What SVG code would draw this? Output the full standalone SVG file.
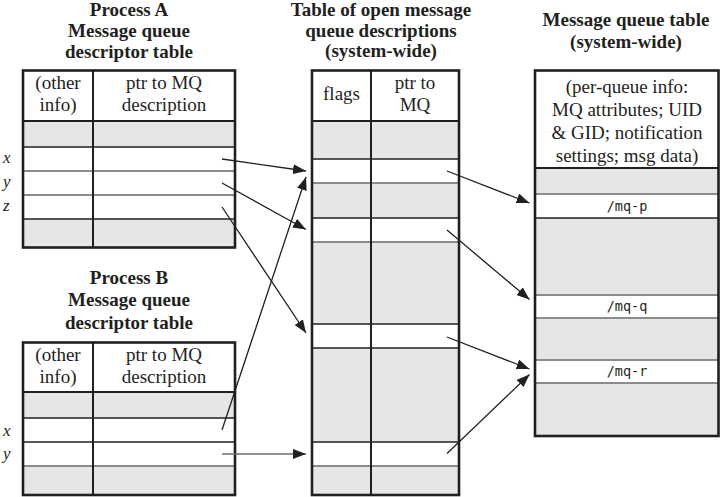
<svg xmlns="http://www.w3.org/2000/svg" width="720" height="497" viewBox="0 0 720 497">
<style>
.bg{fill:#ffffff}
.g{fill:#e6e6e8}
.w{fill:#ffffff}
.border{fill:none;stroke:#231f20;stroke-width:2.6}
.col{stroke:#231f20;stroke-width:2}
.dk{stroke:#231f20;stroke-width:1.5}
.hd{stroke:#231f20;stroke-width:2}
.gr{stroke:#8c8c8c;stroke-width:2}
.title{font-family:'Liberation Serif','DejaVu Serif',serif;font-weight:bold;font-size:19px;fill:#231f20;text-anchor:middle}
.txt{font-family:'Liberation Serif','DejaVu Serif',serif;font-size:19px;fill:#231f20;text-anchor:middle}
.it{font-family:'Liberation Serif','DejaVu Serif',serif;font-style:italic;font-size:17px;fill:#231f20}
.mono{font-family:'DejaVu Sans Mono','Liberation Mono',monospace;font-size:13.5px;fill:#231f20;text-anchor:middle}
.arr{stroke:#231f20;stroke-width:1.3;fill:none;marker-end:url(#ah)}
</style>
<defs>
<marker id="ah" markerUnits="userSpaceOnUse" markerWidth="13" markerHeight="10" refX="13" refY="5" orient="auto">
<path d="M0,0 L13,5 L0,10 z" fill="#231f20"/>
</marker>
</defs>
<rect class="bg" x="0" y="0" width="720" height="497"/>

<g id="processA">
<text class="title" x="129" y="16">Process A</text>
<text class="title" x="129" y="36.5">Message queue</text>
<text class="title" x="129" y="57.5">descriptor table</text>
<rect class="w" x="23" y="70.5" width="212" height="177"/>
<rect class="g" x="23" y="121" width="212" height="26"/>
<rect class="g" x="23" y="219" width="212" height="28.5"/>
<text class="txt" x="58" y="89">(other</text>
<text class="txt" x="58" y="111">info)</text>
<text class="txt" x="164" y="89">ptr to MQ</text>
<text class="txt" x="164" y="111">description</text>
<line class="hd" x1="23" y1="121" x2="235" y2="121"/>
<line class="dk" x1="23" y1="147" x2="235" y2="147"/>
<line class="gr" x1="23" y1="171" x2="235" y2="171"/>
<line class="gr" x1="23" y1="195" x2="235" y2="195"/>
<line class="dk" x1="23" y1="219" x2="235" y2="219"/>
<line class="col" x1="93" y1="70.5" x2="93" y2="247.5"/>
<rect class="border" x="23" y="70.5" width="212" height="177"/>
<text class="it" x="3" y="163">x</text>
<text class="it" x="3" y="187">y</text>
<text class="it" x="3" y="211">z</text>
</g>

<g id="processB">
<text class="title" x="129" y="284">Process B</text>
<text class="title" x="129" y="306">Message queue</text>
<text class="title" x="129" y="328.5">descriptor table</text>
<rect class="w" x="23" y="342.5" width="212" height="152.5"/>
<rect class="g" x="23" y="392" width="212" height="26"/>
<rect class="g" x="23" y="466" width="212" height="29"/>
<text class="txt" x="58" y="361">(other</text>
<text class="txt" x="58" y="383">info)</text>
<text class="txt" x="164" y="361">ptr to MQ</text>
<text class="txt" x="164" y="383">description</text>
<line class="hd" x1="23" y1="392" x2="235" y2="392"/>
<line class="dk" x1="23" y1="418" x2="235" y2="418"/>
<line class="dk" x1="23" y1="442" x2="235" y2="442"/>
<line class="gr" x1="23" y1="466" x2="235" y2="466"/>
<line class="col" x1="93" y1="342.5" x2="93" y2="495"/>
<rect class="border" x="23" y="342.5" width="212" height="152.5"/>
<text class="it" x="3" y="436">x</text>
<text class="it" x="3" y="459">y</text>
</g>

<g id="openDescriptions">
<text class="title" x="381" y="16">Table of open message</text>
<text class="title" x="381" y="36.5">queue descriptions</text>
<text class="title" x="381" y="57">(system-wide)</text>
<rect class="w" x="312" y="70.5" width="147" height="424.5"/>
<rect class="g" x="312" y="121" width="147" height="38"/>
<rect class="g" x="312" y="183" width="147" height="35"/>
<rect class="g" x="312" y="242" width="147" height="82"/>
<rect class="g" x="312" y="348" width="147" height="94"/>
<rect class="g" x="312" y="466" width="147" height="29"/>
<text class="txt" x="341.5" y="100">flags</text>
<text class="txt" x="415" y="89">ptr to</text>
<text class="txt" x="415" y="111">MQ</text>
<line class="hd" x1="312" y1="121" x2="459" y2="121"/>
<line class="dk" x1="312" y1="159" x2="459" y2="159"/>
<line class="gr" x1="312" y1="183" x2="459" y2="183"/>
<line class="dk" x1="312" y1="218" x2="459" y2="218"/>
<line class="gr" x1="312" y1="242" x2="459" y2="242"/>
<line class="dk" x1="312" y1="324" x2="459" y2="324"/>
<line class="dk" x1="312" y1="348" x2="459" y2="348"/>
<line class="dk" x1="312" y1="442" x2="459" y2="442"/>
<line class="gr" x1="312" y1="466" x2="459" y2="466"/>
<line class="col" x1="371" y1="70.5" x2="371" y2="495"/>
<rect class="border" x="312" y="70.5" width="147" height="424.5"/>
</g>

<g id="mqTable">
<text class="title" x="626" y="26">Message queue table</text>
<text class="title" x="626" y="48">(system-wide)</text>
<rect class="w" x="535" y="70.5" width="183.5" height="365.5"/>
<rect class="g" x="535" y="168" width="183.5" height="26"/>
<rect class="g" x="535" y="218" width="183.5" height="77"/>
<rect class="g" x="535" y="318" width="183.5" height="42"/>
<rect class="g" x="535" y="383" width="183.5" height="53"/>
<text class="txt" x="627" y="93">(per-queue info:</text>
<text class="txt" x="627" y="116">MQ attributes; UID</text>
<text class="txt" x="627" y="139">&amp; GID; notification</text>
<text class="txt" x="627" y="162">settings; msg data)</text>
<line class="hd" x1="535" y1="168" x2="718.5" y2="168"/>
<line class="gr" x1="535" y1="194" x2="718.5" y2="194"/>
<line class="dk" x1="535" y1="218" x2="718.5" y2="218"/>
<line class="gr" x1="535" y1="295" x2="718.5" y2="295"/>
<line class="gr" x1="535" y1="318" x2="718.5" y2="318"/>
<line class="gr" x1="535" y1="360" x2="718.5" y2="360"/>
<line class="gr" x1="535" y1="383" x2="718.5" y2="383"/>
<text class="mono" x="627" y="210.5">/mq-p</text>
<text class="mono" x="627" y="311">/mq-q</text>
<text class="mono" x="627" y="376">/mq-r</text>
<rect class="border" x="535" y="70.5" width="183.5" height="365.5"/>
</g>

<g id="connectors">
<line class="arr" x1="222" y1="159" x2="306" y2="171"/>
<line class="arr" x1="222" y1="183" x2="306" y2="229.5"/>
<line class="arr" x1="222" y1="207" x2="306" y2="333"/>
<line class="arr" x1="222" y1="430" x2="306" y2="177"/>
<line class="arr" x1="222" y1="454" x2="306" y2="454" style="stroke:#6e6e6e"/>
<line class="arr" x1="447" y1="171" x2="529.5" y2="203"/>
<line class="arr" x1="447" y1="230" x2="529.5" y2="299.5"/>
<line class="arr" x1="447" y1="337" x2="529.5" y2="369"/>
<line class="arr" x1="447" y1="453.5" x2="529.5" y2="374.5"/>
</g>
</svg>
